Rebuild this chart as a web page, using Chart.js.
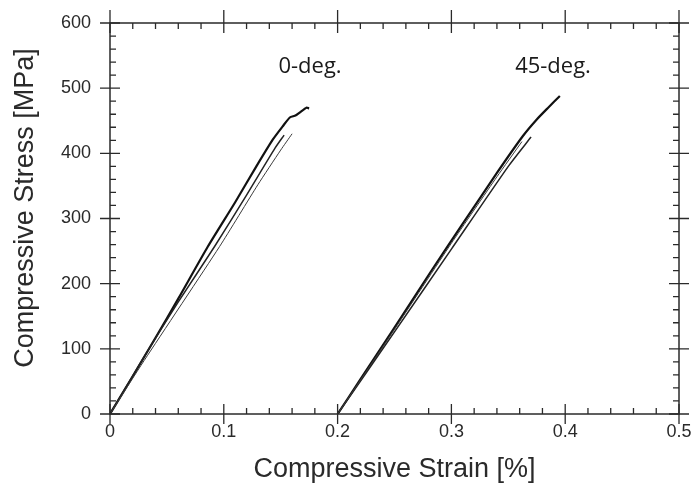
<!DOCTYPE html>
<html>
<head>
<meta charset="utf-8">
<script src="https://cdn.jsdelivr.net/npm/chart.js@4.4.0/dist/chart.umd.min.js"></script>
<style>
  html, body { margin: 0; padding: 0; background: #ffffff; }
  canvas { display: block; }
</style>
</head>
<body>
<canvas id="c" width="695" height="484"></canvas>
<script>
// ---- Data ----
// 0-deg. specimens
const strain0A = [0, 0.02, 0.04, 0.06, 0.086, 0.11, 0.1286, 0.143, 0.152, 0.158, 0.163, 0.167, 0.1726, 0.175];
const stress0A = [0, 58, 117, 177, 257, 325, 380, 421, 442, 455, 458, 463, 470, 469];
const strain0B = [0, 0.03, 0.06, 0.0919, 0.12, 0.145, 0.153];
const stress0B = [0, 88, 172, 257, 336, 408, 428];
const strain0C = [0, 0.03, 0.0963, 0.13, 0.15, 0.16];
const stress0C = [0, 82, 257, 352, 405, 430];
// 45-deg. specimens
const strain45A = [0.2, 0.22, 0.2487, 0.281, 0.31, 0.34, 0.363, 0.375, 0.385, 0.3953];
const stress45A = [0, 53, 129, 216, 292, 370, 427, 452, 470, 488];
const strain45B = [0.2, 0.25, 0.3, 0.35, 0.37];
const stress45B = [0, 126, 253, 380, 425];
const strain45C = [0.2, 0.25, 0.3, 0.34, 0.362];
const stress45C = [0, 130, 262, 364, 418];

// Annotations
const noteText = ['0-deg.', '45-deg.'];
const noteX = [0.148, 0.356];
const noteY = [523, 523];

// Axes
const xMin = 0, xMax = 0.5, xStep = 0.1, xMinor = 0.02;
const yMin = 0, yMax = 600, yStep = 100, yMinor = 20;
const xTitle = 'Compressive Strain [%]';
const yTitle = 'Compressive Stress [MPa]';

function pts(xs, ys) { return xs.map((x, i) => ({ x: x, y: ys[i] })); }

function ds(xs, ys, w, color) {
  return {
    data: pts(xs, ys), showLine: true, borderColor: color, borderWidth: w,
    pointRadius: 0, fill: false, tension: 0.2
  };
}

const frameColor = '#2a2a2a';

const decor = {
  id: 'decor',
  beforeDraw(chart) {
    const ctx = chart.ctx;
    ctx.save();
    ctx.fillStyle = '#ffffff';
    ctx.fillRect(0, 0, chart.width, chart.height);
    ctx.restore();
  },
  afterDraw(chart) {
    const ctx = chart.ctx;
    const a = chart.chartArea;
    const xs = chart.scales.x, ys = chart.scales.y;
    ctx.save();
    ctx.strokeStyle = frameColor;
    ctx.lineWidth = 1.5;
    ctx.strokeRect(a.left, a.top, a.right - a.left, a.bottom - a.top);
    ctx.lineWidth = 1.3;
    ctx.beginPath();
    const majOut = 10, majIn = 10, minIn = 6;
    // x ticks (bottom & top)
    const nx = Math.round((xMax - xMin) / xMinor);
    for (let i = 0; i <= nx; i++) {
      const v = xMin + i * xMinor;
      const px = xs.getPixelForValue(v);
      const major = i % Math.round(xStep / xMinor) === 0;
      if (major) {
        ctx.moveTo(px, a.bottom + majOut); ctx.lineTo(px, a.bottom - majIn);
        ctx.moveTo(px, a.top - majOut - 3); ctx.lineTo(px, a.top + majIn);
      } else {
        ctx.moveTo(px, a.bottom); ctx.lineTo(px, a.bottom - minIn);
        ctx.moveTo(px, a.top); ctx.lineTo(px, a.top + minIn);
      }
    }
    // y ticks (left & right)
    const ny = Math.round((yMax - yMin) / yMinor);
    for (let i = 0; i <= ny; i++) {
      const v = yMin + i * yMinor;
      const py = ys.getPixelForValue(v);
      const major = i % Math.round(yStep / yMinor) === 0;
      if (major) {
        ctx.moveTo(a.left - majOut, py); ctx.lineTo(a.left + majIn, py);
        ctx.moveTo(a.right + majOut, py); ctx.lineTo(a.right - majIn, py);
      } else {
        ctx.moveTo(a.left, py); ctx.lineTo(a.left + minIn, py);
        ctx.moveTo(a.right, py); ctx.lineTo(a.right - minIn, py);
      }
    }
    ctx.stroke();

    // annotations
    ctx.fillStyle = '#1a1a1a';
    ctx.font = '22px "Open Sans"';
    ctx.textAlign = 'left';
    ctx.textBaseline = 'alphabetic';
    for (let i = 0; i < noteText.length; i++) {
      ctx.fillText(noteText[i], xs.getPixelForValue(noteX[i]), ys.getPixelForValue(noteY[i]));
    }

    // axis titles
    ctx.fillStyle = '#2a2a2a';
    ctx.font = '27px "Liberation Sans", Arial, sans-serif';
    ctx.textAlign = 'center';
    ctx.textBaseline = 'middle';
    ctx.fillText(xTitle, (a.left + a.right) / 2, 470);
    ctx.translate(26, 208);
    ctx.rotate(-Math.PI / 2);
    ctx.fillText(yTitle, 0, 0);
    ctx.restore();
  }
};

new Chart(document.getElementById('c'), {
  type: 'scatter',
  data: {
    datasets: [
      ds(strain0C, stress0C, 1, '#3a3a3a'),
      ds(strain0B, stress0B, 1.5, '#222222'),
      ds(strain0A, stress0A, 2.2, '#111111'),
      ds(strain45C, stress45C, 1, '#3a3a3a'),
      ds(strain45B, stress45B, 1.5, '#222222'),
      ds(strain45A, stress45A, 2.2, '#111111')
    ]
  },
  options: {
    responsive: false,
    animation: false,
    devicePixelRatio: 1,
    layout: { padding: { left: 0, right: 16, top: 23, bottom: 0 } },
    plugins: { legend: { display: false }, tooltip: { enabled: false } },
    scales: {
      x: {
        type: 'linear', min: xMin, max: xMax,
        grid: { display: false, drawTicks: false },
        border: { display: false },
        ticks: {
          stepSize: xStep, padding: 7, color: '#2a2a2a', maxRotation: 0,
          font: { family: '"Liberation Sans", Arial, sans-serif', size: 18 },
          callback: v => (Math.abs(v) < 1e-9 ? '0' : Number(v).toFixed(1))
        },
        afterFit: s => { s.height = 70; s.paddingLeft = 0; s.paddingRight = 0; }
      },
      y: {
        type: 'linear', min: yMin, max: yMax,
        grid: { display: false, drawTicks: false },
        border: { display: false },
        ticks: {
          stepSize: yStep, padding: 19, color: '#2a2a2a',
          font: { family: '"Liberation Sans", Arial, sans-serif', size: 18 }
        },
        afterFit: s => { s.width = 110; s.paddingTop = 0; s.paddingBottom = 0; }
      }
    }
  },
  plugins: [decor]
});
</script>
</body>
</html>
